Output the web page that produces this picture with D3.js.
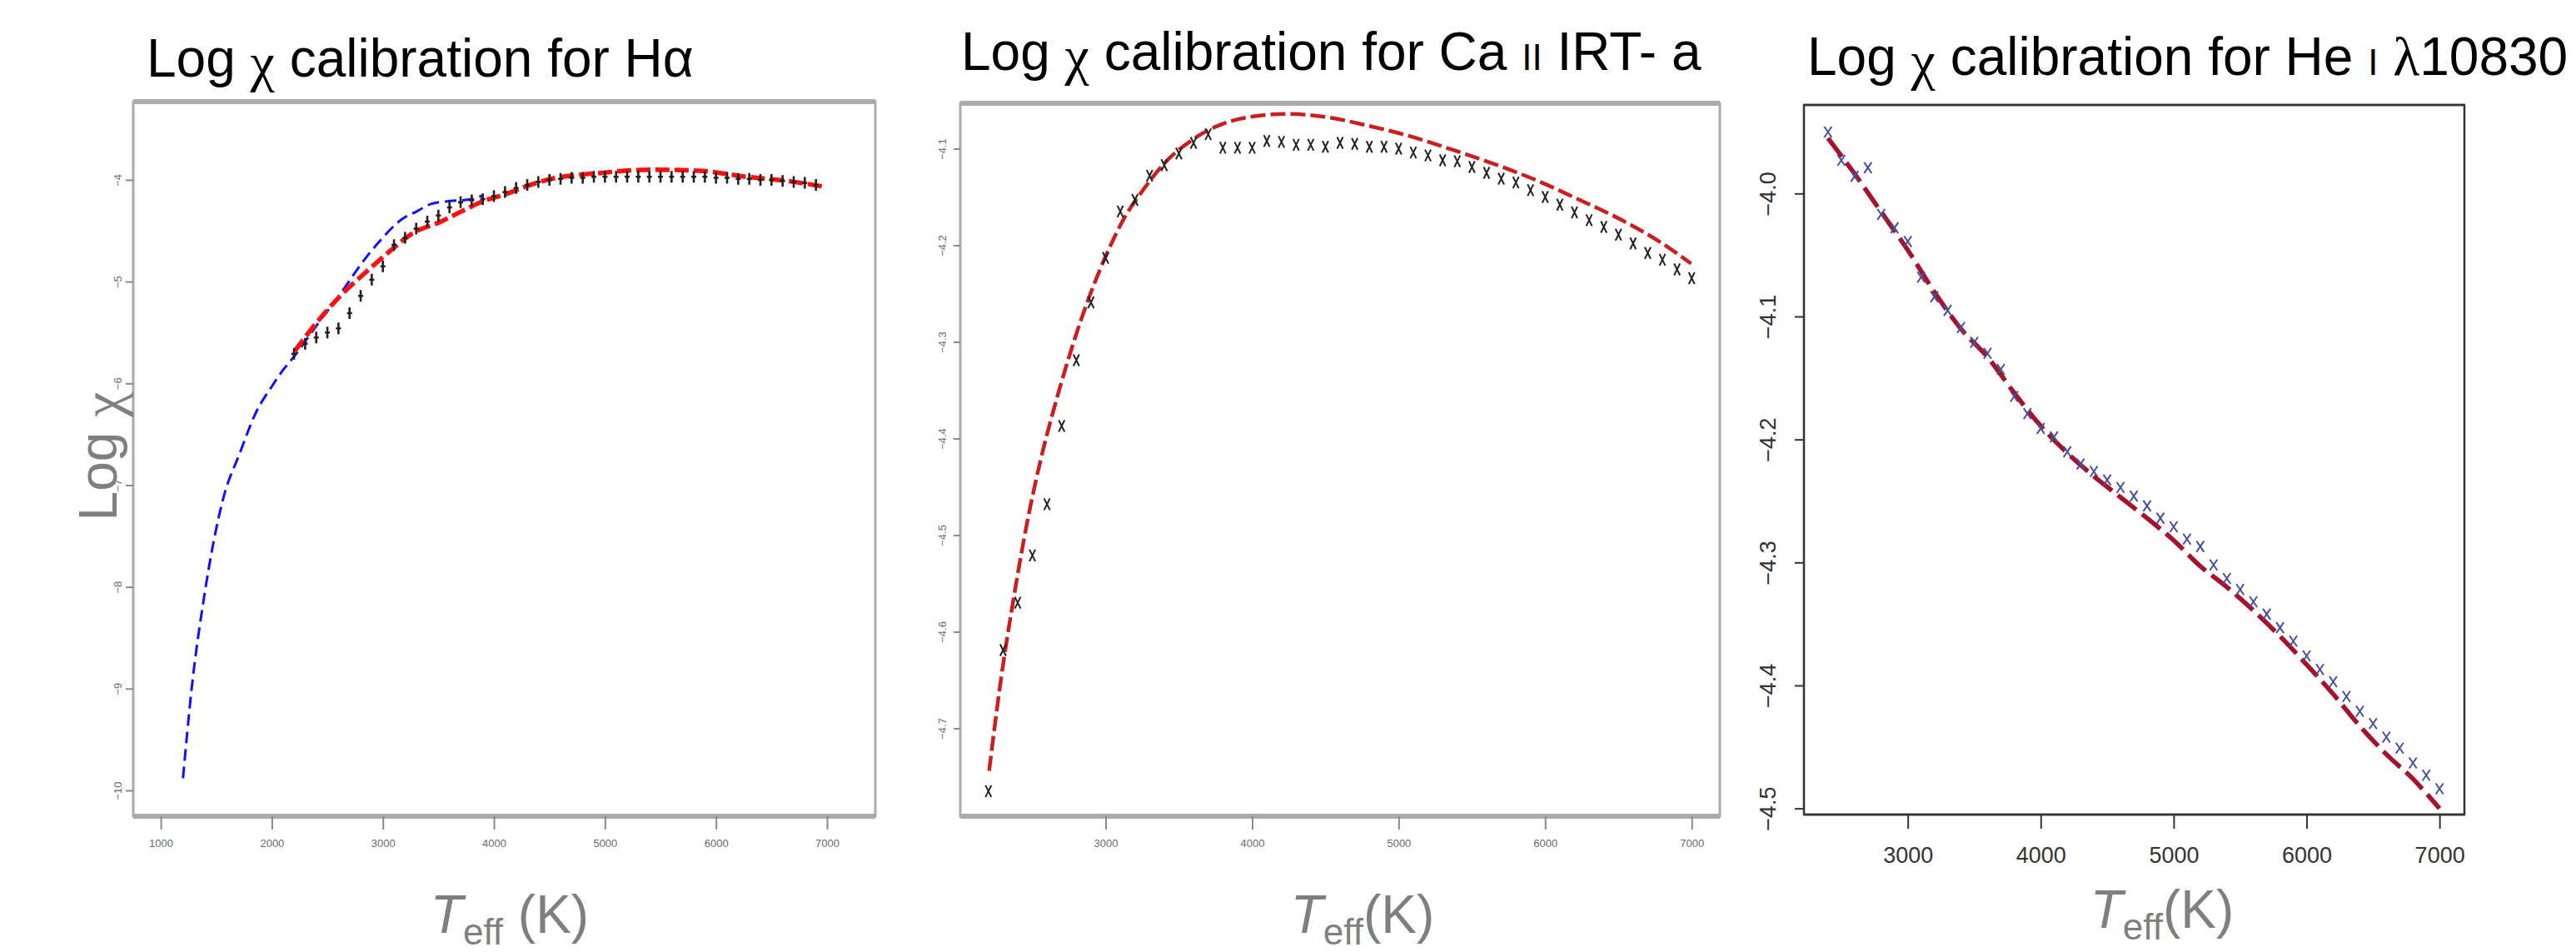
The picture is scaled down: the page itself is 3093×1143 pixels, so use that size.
<!DOCTYPE html>
<html>
<head>
<meta charset="utf-8">
<script src="https://cdn.jsdelivr.net/npm/d3@7"></script>
<style>
  body { margin: 0; background: #fff; }
  text { font-family: "Liberation Sans", Arial, sans-serif; }
  .tick-narrow { font-family: "Liberation Sans Narrow", "Arial Narrow", "Liberation Sans", sans-serif; }
</style>
</head>
<body>
<div id="chart-area"></div>
<script>
// ---- H-alpha panel ----
var haBlueTeff = [1200, 1280, 1390, 1560, 1710, 1860, 2000, 2100, 2185, 2400, 2659, 2788, 2960, 3176, 3305, 3434, 3607, 3779, 3907];
var haBlueLog = [-9.88, -8.98, -8.10, -7.14, -6.69, -6.28, -6.03, -5.87, -5.757, -5.435, -5.056, -4.851, -4.617, -4.383, -4.310, -4.237, -4.208, -4.193, -4.150];

var haRedTeff = [2206, 2400, 2615, 2874, 3089, 3261, 3520, 3735, 3907, 4122, 4295, 4467, 4983, 5414, 5845, 6276, 6706, 6986];
var haRedLog = [-5.684, -5.407, -5.143, -4.881, -4.676, -4.529, -4.412, -4.295, -4.208, -4.135, -4.062, -4.003, -3.93, -3.90, -3.91, -3.97, -4.02, -4.07];

var haObsTeff = [2200, 2300, 2400, 2500, 2600, 2700, 2800, 2900, 3000, 3100, 3200, 3300, 3400, 3500, 3600, 3700, 3800, 3900,
  4000, 4100, 4200, 4300, 4400, 4500, 4600, 4700, 4800, 4900, 5000, 5100, 5200, 5300, 5400, 5500, 5600, 5700, 5800, 5900,
  6000, 6100, 6200, 6300, 6400, 6500, 6600, 6700, 6800, 6900];
var haObsLog = [-5.71, -5.61, -5.55, -5.50, -5.46, -5.31, -5.14, -4.98, -4.85, -4.64, -4.57, -4.48, -4.41, -4.35, -4.27, -4.22, -4.20, -4.19,
  -4.16, -4.12, -4.08, -4.05, -4.02, -4.00, -3.99, -3.98, -3.98, -3.97, -3.97, -3.97, -3.97, -3.97, -3.97, -3.97, -3.97, -3.97, -3.97, -3.97,
  -3.98, -3.98, -3.99, -3.99, -4.00, -4.00, -4.01, -4.02, -4.03, -4.05];

var haXTicks = [1000, 2000, 3000, 4000, 5000, 6000, 7000];
var haYTicks = [-10, -9, -8, -7, -6, -5, -4];

// ---- Ca II IRT-a panel ----
var caFitTeff = [2205, 2285, 2376, 2480, 2560, 2683, 2828, 3010, 3119, 3264, 3408, 3590, 3771, 3988, 4242, 4495, 4785, 5075, 5365, 5655, 5945, 6235, 6524, 6778, 6996];
var caFitLog = [-4.744, -4.650, -4.562, -4.475, -4.420, -4.350, -4.279, -4.208, -4.174, -4.141, -4.114, -4.091, -4.076, -4.067, -4.064, -4.067, -4.076, -4.087, -4.101, -4.116, -4.133, -4.153, -4.174, -4.196, -4.219];

var caObsTeff = [2200, 2300, 2400, 2500, 2600, 2700, 2800, 2900, 3000, 3100, 3200, 3300, 3400, 3500, 3600, 3700, 3800, 3900,
  4000, 4100, 4200, 4300, 4400, 4500, 4600, 4700, 4800, 4900, 5000, 5100, 5200, 5300, 5400, 5500, 5600, 5700, 5800, 5900,
  6000, 6100, 6200, 6300, 6400, 6500, 6600, 6700, 6800, 6900, 7000];
var caObsLog = [-4.765, -4.619, -4.570, -4.521, -4.468, -4.387, -4.319, -4.259, -4.213, -4.165, -4.153, -4.128, -4.117, -4.105, -4.094, -4.085, -4.099, -4.099,
  -4.099, -4.092, -4.093, -4.096, -4.096, -4.098, -4.094, -4.095, -4.098, -4.098, -4.100, -4.104, -4.107, -4.112, -4.113, -4.119, -4.125, -4.131, -4.135, -4.143,
  -4.150, -4.158, -4.166, -4.174, -4.181, -4.189, -4.198, -4.208, -4.215, -4.225, -4.234];

var caXTicks = [3000, 4000, 5000, 6000, 7000];
var caYTicks = [-4.7, -4.6, -4.5, -4.4, -4.3, -4.2, -4.1];

// ---- He I 10830 panel ----
var heFitTeff = [2400, 2600, 2800, 3000, 3200, 3400, 3600, 3800, 4000, 4200, 4400, 4600, 4800, 5000, 5200, 5400, 5600, 5800, 6000, 6200, 6400, 6600, 6800, 7000];
var heFitLog = [-3.955, -3.984, -4.015, -4.046, -4.080, -4.110, -4.133, -4.162, -4.189, -4.211, -4.230, -4.247, -4.264, -4.282, -4.303, -4.320, -4.339, -4.360, -4.383, -4.407, -4.433, -4.456, -4.476, -4.500];

var heObsTeff = [2400, 2500, 2600, 2700, 2800, 2900, 3000, 3100, 3200, 3300, 3400, 3500, 3600, 3700, 3800, 3900,
  4000, 4100, 4200, 4300, 4400, 4500, 4600, 4700, 4800, 4900, 5000, 5100, 5200, 5300, 5400, 5500, 5600, 5700, 5800, 5900,
  6000, 6100, 6200, 6300, 6400, 6500, 6600, 6700, 6800, 6900, 7000];
var heObsLog = [-3.950, -3.973, -3.986, -3.979, -4.017, -4.028, -4.039, -4.068, -4.084, -4.095, -4.109, -4.121, -4.130, -4.143, -4.165, -4.179,
  -4.191, -4.198, -4.210, -4.220, -4.226, -4.233, -4.239, -4.246, -4.254, -4.264, -4.271, -4.281, -4.287, -4.302, -4.313, -4.322, -4.332, -4.342, -4.353, -4.364,
  -4.376, -4.387, -4.397, -4.409, -4.421, -4.431, -4.442, -4.451, -4.463, -4.473, -4.484];

var heXTicks = [3000, 4000, 5000, 6000, 7000];
var heYTicks = [-4.5, -4.4, -4.3, -4.2, -4.1, -4.0];

function zip(xs, ys) {
  return xs.map((t, i) => ({ t: t, v: ys[i] }));
}

var width = 3093;
var height = 1143;

var svg = d3.select("#chart-area")
  .append("svg")
  .attr("width", width)
  .attr("height", height)
  .style("display", "block");

svg.append("rect").attr("width", width).attr("height", height).attr("fill", "#fff");

var panels = [
  {
    left: 160, right: 1051, top: 122, bottom: 980,
    xDomain: [752, 7435], yDomain: [-10.254, -3.231],
    xTicks: haXTicks, yTicks: haYTicks,
    frame: "#ababab", frameW: 3, frameTB: 6,
    tickColor: "#8a8a8a", tickFont: 13, tickFill: "#6a6a6a",
    xTickLen: 16, xPad: 12, yTickLen: 9, yOff: 14,
    yFmt: d3.format("d"),
    lines: [
      { data: zip(haBlueTeff, haBlueLog), color: "#1010ff", w: 3, dash: "14,7" },
      { data: zip(haRedTeff, haRedLog), color: "#ff1010", w: 5.5, dash: "17,6" }
    ],
    points: { data: zip(haObsTeff, haObsLog), shape: "plus", color: "#222" }
  },
  {
    left: 1153, right: 2065, top: 124, bottom: 980,
    xDomain: [2008, 7192], yDomain: [-4.791, -4.053],
    xTicks: caXTicks, yTicks: caYTicks,
    frame: "#ababab", frameW: 3, frameTB: 6,
    tickColor: "#8a8a8a", tickFont: 13, tickFill: "#6a6a6a",
    xTickLen: 16, xPad: 12, yTickLen: 8, yOff: 17,
    yFmt: d3.format(".1f"),
    lines: [
      { data: zip(caFitTeff, caFitLog), color: "#cc1e1e", w: 4.5, dash: "18,6" }
    ],
    points: { data: zip(caObsTeff, caObsLog), shape: "cross", color: "#222" }
  },
  {
    left: 2166, right: 2959, top: 126, bottom: 978,
    xDomain: [2219, 7187], yDomain: [-4.505, -3.928],
    xTicks: heXTicks, yTicks: heYTicks,
    frame: "#333", frameW: 2.5, frameTB: 2.5,
    tickColor: "#333", tickFont: 27, tickFill: "#333",
    xTickLen: 17, xPad: 22, yTickLen: 11, yOff: 34,
    yFmt: d3.format(".1f"),
    lines: [
      { data: zip(heFitTeff, heFitLog), color: "#a8102c", w: 5.5, dash: "28,9" }
    ],
    points: { data: zip(heObsTeff, heObsLog), shape: "x", color: "#45509e" }
  }
];

function drawPanel(p) {
  var g = svg.append("g");

  var xScale = d3.scaleLinear().domain(p.xDomain).range([p.left, p.right]);
  var yScale = d3.scaleLinear().domain(p.yDomain).range([p.bottom, p.top]);

  // frame
  g.append("rect")
    .attr("x", p.left).attr("y", p.top)
    .attr("width", p.right - p.left).attr("height", p.bottom - p.top)
    .attr("fill", "none")
    .attr("stroke", p.frame)
    .attr("stroke-width", p.frameW);

  [p.top, p.bottom].forEach((yy) => {
    g.append("line")
      .attr("x1", p.left).attr("x2", p.right)
      .attr("y1", yy).attr("y2", yy)
      .attr("stroke", p.frame)
      .attr("stroke-width", p.frameTB);
  });

  var xAxis = d3.axisBottom(xScale)
    .tickValues(p.xTicks)
    .tickSize(p.xTickLen)
    .tickPadding(p.xPad)
    .tickFormat(d3.format("d"));

  var xAxisGroup = g.append("g")
    .attr("transform", "translate(0," + p.bottom + ")")
    .call(xAxis);

  xAxisGroup.select(".domain").remove();
  xAxisGroup.selectAll("line").attr("stroke", p.tickColor).attr("stroke-width", 2);
  xAxisGroup.selectAll("text")
    .attr("class", "tick-narrow")
    .style("font-size", p.tickFont + "px")
    .attr("fill", p.tickFill);

  var yAxis = d3.axisLeft(yScale)
    .tickValues(p.yTicks)
    .tickSize(p.yTickLen)
    .tickFormat(p.yFmt);

  var yAxisGroup = g.append("g")
    .attr("transform", "translate(" + p.left + ",0)")
    .call(yAxis);

  yAxisGroup.select(".domain").remove();
  yAxisGroup.selectAll("line").attr("stroke", p.tickColor).attr("stroke-width", 2);
  yAxisGroup.selectAll("text")
    .attr("class", "tick-narrow")
    .attr("x", null)
    .attr("dy", null)
    .attr("text-anchor", "middle")
    .attr("transform", "translate(" + (-p.yOff) + ",0) rotate(-90)")
    .style("font-size", p.tickFont + "px")
    .attr("fill", p.tickFill);

  var line = d3.line()
    .x((d) => xScale(d.t))
    .y((d) => yScale(d.v))
    .curve(d3.curveMonotoneX);

  p.lines.forEach((s) => {
    g.append("path")
      .datum(s.data)
      .attr("d", line)
      .attr("fill", "none")
      .attr("stroke", s.color)
      .attr("stroke-width", s.w)
      .attr("stroke-dasharray", s.dash);
  });

  // observed / computed points
  var shapes = {
    plus: "M0,-7V7M-3,0H3",
    cross: "M-3.5,-7L3.5,7M3.5,-7L-3.5,7",
    x: "M-4.5,-6.5L4.5,6.5M4.5,-6.5L-4.5,6.5"
  };

  g.selectAll(".pt")
    .data(p.points.data)
    .enter()
    .append("path")
    .attr("class", "pt")
    .attr("transform", (d) => "translate(" + xScale(d.t) + "," + yScale(d.v) + ")")
    .attr("d", shapes[p.points.shape])
    .attr("fill", "none")
    .attr("stroke", p.points.color)
    .attr("stroke-width", p.points.shape === "plus" ? 2.6 : 2);
}

panels.forEach(drawPanel);

// titles
function title(x, y, parts) {
  var t = svg.append("text")
    .attr("x", x)
    .attr("y", y)
    .style("font-size", "64px")
    .attr("fill", "#000");
  parts.forEach((p) => {
    var s = t.append("tspan").text(p.text);
    if (p.serif) s.style("font-family", "'Liberation Serif', 'DejaVu Serif', serif").style("font-size", "66px");
    if (p.small) s.style("font-size", "44px");
    if (p.dy) s.attr("dy", p.dy);
  });
}

title(176, 92, [
  { text: "Log " },
  { text: "χ", serif: true, dy: 5 },
  { text: " calibration for Hα", dy: -5 }
]);

title(1154, 84, [
  { text: "Log " },
  { text: "χ", serif: true, dy: 5 },
  { text: " calibration for Ca ", dy: -5 },
  { text: "II", small: true },
  { text: " IRT- a" }
]);

title(2170, 90, [
  { text: "Log " },
  { text: "χ", serif: true, dy: 5 },
  { text: " calibration for He ", dy: -5 },
  { text: "I", small: true },
  { text: " " },
  { text: "λ", serif: true },
  { text: "10830" }
]);

// y axis label on first panel
var yLabel = svg.append("text")
  .attr("transform", "translate(140,548) rotate(-90)")
  .attr("text-anchor", "middle")
  .style("font-size", "64px")
  .attr("fill", "#7f7f7f");
yLabel.append("tspan").text("Log ");
yLabel.append("tspan").text("χ")
  .style("font-family", "'Liberation Serif', 'DejaVu Serif', serif")
  .style("font-size", "68px")
  .attr("dy", 6);

// x axis labels
function xLabel(cx, baseline, gap) {
  var t = svg.append("text")
    .attr("x", cx)
    .attr("y", baseline)
    .attr("text-anchor", "middle")
    .style("font-size", "64px")
    .attr("fill", "#7f7f7f");
  t.append("tspan").text("T").style("font-style", "italic");
  t.append("tspan").text("eff").style("font-size", "44px").attr("dy", 14);
  t.append("tspan").text(gap + "(K)").attr("dy", -14);
}

xLabel(612, 1120, " ");
xLabel(1636, 1120, "");
xLabel(2596, 1114, "");
</script>
</body>
</html>
